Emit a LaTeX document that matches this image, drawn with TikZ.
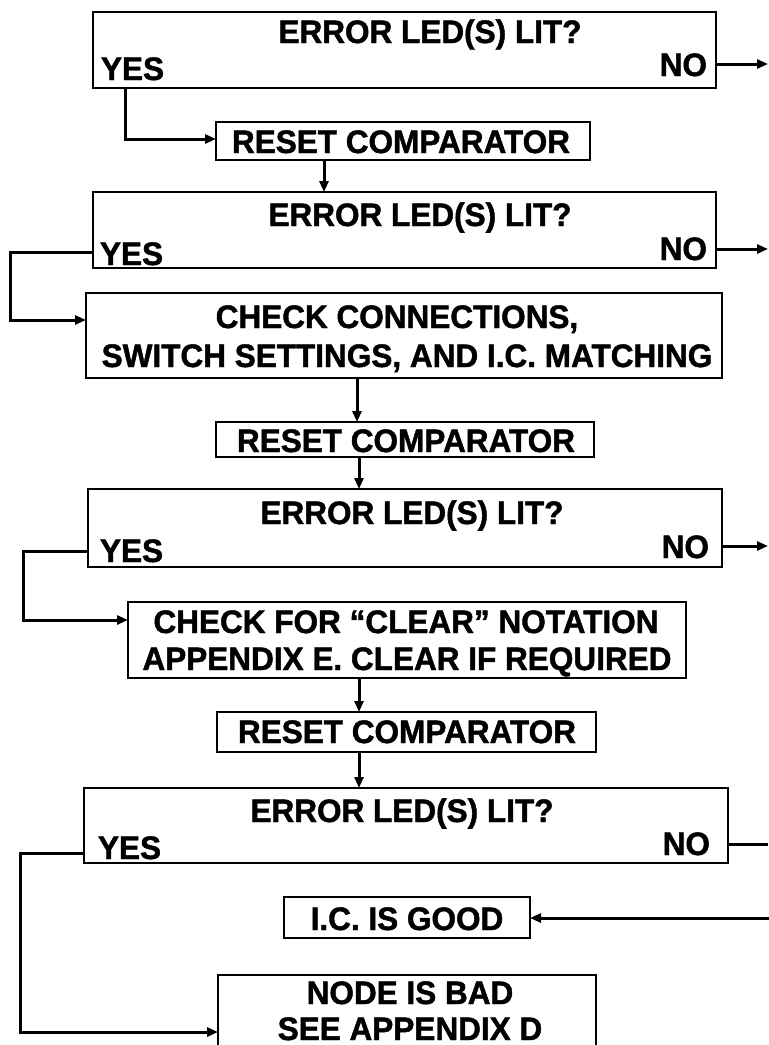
\documentclass[tikz,border=0pt]{standalone}
\usepackage{fontspec}
\setmainfont{Liberation Sans}[BoldFeatures={FakeBold=1.4}, FakeStretch=0.97]
\usetikzlibrary{arrows.meta}
\begin{document}
\begin{tikzpicture}[x=1pt,y=-1pt,
  box/.style={draw, line width=2.2pt, inner sep=0pt, outer sep=0pt},
  txt/.style={font=\bfseries\fontsize{32.5}{36}\selectfont, inner sep=0pt, outer sep=0pt},
  conn/.style={line width=3pt, -{Triangle[length=11pt,width=9pt]}},
  plainline/.style={line width=3pt}]
\useasboundingbox (0,0) rectangle (769,1045);

% ---------- boxes ----------
\node[box, minimum width=623pt, minimum height=76pt] (d1) at (404.5,50) {};
\node[box, minimum width=374pt, minimum height=38pt] (r1) at (403,141) {};
\node[box, minimum width=623pt, minimum height=76pt] (d2) at (404.5,230) {};
\node[box, minimum width=636pt, minimum height=85pt] (d3) at (404,335.5) {};
\node[box, minimum width=378pt, minimum height=35pt] (r2) at (405,439.5) {};
\node[box, minimum width=634pt, minimum height=78pt] (d4) at (405,528) {};
\node[box, minimum width=558pt, minimum height=76pt] (b5) at (407,640) {};
\node[box, minimum width=379pt, minimum height=40pt] (r3) at (406.5,732) {};
\node[box, minimum width=644pt, minimum height=75pt] (d6) at (406,825.5) {};
\node[box, minimum width=246pt, minimum height=41pt] (good) at (407,917.5) {};
\node[box, minimum width=378pt, minimum height=80pt] (bad) at (407,1015) {};

% ---------- texts ----------
\node[txt, anchor=base] (t1) at (430,43) {ERROR LED(S) LIT?};
\node[txt, anchor=base west] (y1) at (101,80) {YES};
\node[txt, anchor=base east] (n1) at (707,76) {NO};

\node[txt, anchor=base] (tr1) at (401,153) {RESET COMPARATOR};

\node[txt, anchor=base] (t2) at (420,226) {ERROR LED(S) LIT?};
\node[txt, anchor=base west] (y2) at (100,265) {YES};
\node[txt, anchor=base east] (n2) at (707,260) {NO};

\node[txt, anchor=base] (t3a) at (397,328) {CHECK CONNECTIONS,};
\node[txt, anchor=base] (t3b) at (407,367) {SWITCH SETTINGS, AND I.C. MATCHING};

\node[txt, anchor=base] (tr2) at (406,452) {RESET COMPARATOR};

\node[txt, anchor=base] (t4) at (412,524) {ERROR LED(S) LIT?};
\node[txt, anchor=base west] (y4) at (100,562) {YES};
\node[txt, anchor=base east] (n4) at (709,558) {NO};

\node[txt, anchor=base] (t5a) at (406,633) {CHECK FOR “CLEAR” NOTATION};
\node[txt, anchor=base] (t5b) at (407,670) {APPENDIX E. CLEAR IF REQUIRED};

\node[txt, anchor=base] (tr3) at (407,743) {RESET COMPARATOR};

\node[txt, anchor=base] (t6) at (402,822) {ERROR LED(S) LIT?};
\node[txt, anchor=base west] (y6) at (98,859) {YES};
\node[txt, anchor=base east] (n6) at (710,855) {NO};

\node[txt, anchor=base] (tg) at (407,930) {I.C. IS GOOD};

\node[txt, anchor=base] (tb1) at (410,1004) {NODE IS BAD};
\node[txt, anchor=base] (tb2) at (410,1040) {SEE APPENDIX D};

% ---------- connector helper coordinates ----------
\coordinate (c1) at (125,139);
\coordinate (e1) at (768,64);
\coordinate (v1) at (324,0);

\coordinate (c2a) at (10,252);
\coordinate (c2b) at (10,320);
\coordinate (e2) at (768,249);
\coordinate (v2) at (357,0);
\coordinate (v3) at (359,0);

\coordinate (c4a) at (23,551);
\coordinate (c4b) at (23,620);
\coordinate (e4) at (768,546);

\coordinate (c6a) at (20,853);
\coordinate (c6b) at (20,1032);
\coordinate (e6) at (768,844);

\coordinate (eg) at (769,918);

% ---------- connectors ----------
\draw[conn] (c1 |- d1.south) -- (c1) -- (c1 -| r1.west);
\draw[conn] (e1 -| d1.east) -- (e1);
\draw[conn] (v1 |- r1.south) -- (v1 |- d2.north);
\draw[conn] (c2a -| d2.west) -- (c2a) -- (c2b) -- (c2b -| d3.west);
\draw[conn] (e2 -| d2.east) -- (e2);
\draw[conn] (v2 |- d3.south) -- (v2 |- r2.north);
\draw[conn] (v3 |- r2.south) -- (v3 |- d4.north);
\draw[conn] (c4a -| d4.west) -- (c4a) -- (c4b) -- (c4b -| b5.west);
\draw[conn] (e4 -| d4.east) -- (e4);
\draw[conn] (v3 |- b5.south) -- (v3 |- r3.north);
\draw[conn] (v3 |- r3.south) -- (v3 |- d6.north);
\draw[conn] (c6a -| d6.west) -- (c6a) -- (c6b) -- (c6b -| bad.west);
\draw[plainline] (e6 -| d6.east) -- (e6);
\draw[conn] (eg) -- (eg -| good.east);
\end{tikzpicture}
\end{document}
